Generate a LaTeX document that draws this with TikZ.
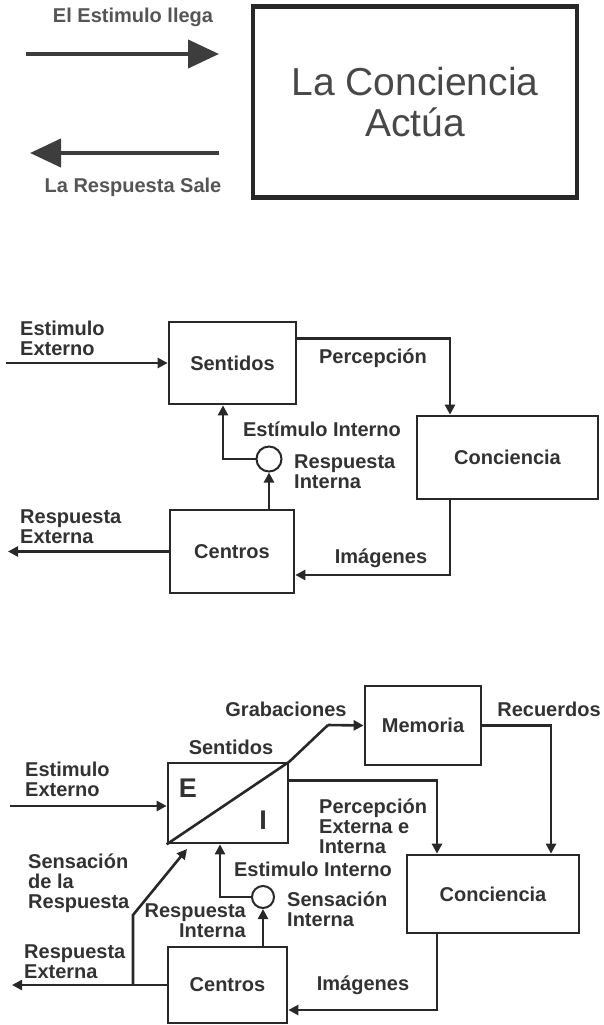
\documentclass[tikz,border=0pt]{standalone}
\usepackage{fontspec}
\setmainfont{Liberation Sans}
\usetikzlibrary{arrows.meta,calc}
\definecolor{ink}{RGB}{40,40,40}
\definecolor{inkgray}{RGB}{85,85,85}
\definecolor{labelink}{RGB}{50,50,50}
\tikzset{
	flow/.style={-{Triangle[length=10pt,width=10pt]},line width=2.6pt,draw=ink},
	wire/.style={line width=2.6pt,draw=ink},
	bigflow/.style={-{Triangle[length=31pt,width=28pt]},line width=4.2pt,draw=ink!90},
	block/.style={draw=ink,line width=2.7pt,inner sep=0pt,text=labelink,
		font=\bfseries\fontsize{20}{20}\selectfont},
	junction/.style={circle,draw=ink,line width=2pt,fill=white,inner sep=0pt},
	lbl/.style={text=labelink,inner sep=0pt,align=left,
		font=\bfseries\fontsize{20}{20}\selectfont},
	toplbl/.style={text=inkgray,inner sep=0pt,
		font=\bfseries\fontsize{20}{20}\selectfont},
}

\begin{document}
\begin{tikzpicture}[x=1pt,y=-1pt]
		\useasboundingbox (0,0) rectangle (604,1025);
		
		% top: the whole idea
		\node[draw=ink,line width=4.2pt,minimum width=324pt,minimum height=191pt,
		align=center,text=ink!85,font=\fontsize{39}{41}\selectfont] (actua) at (415,102)
		{La Conciencia\\Actúa};
		\coordinate (inA) at (26,54);
		\coordinate (inB) at (219,54);
		\coordinate (outA) at (219,153);
		\coordinate (outB) at (30,153);
		\draw[bigflow] (inA) -- (inB);
		\draw[bigflow] (outA) -- (outB);
		\node[toplbl] (llega) at (133,17) {El Estimulo llega};
		\node[toplbl] (sale) at (133,187) {La Respuesta Sale};
		
		% middle: sentidos, centros, conciencia
		\node[block,minimum width=127pt,minimum height=82pt] (sent1) at (232.5,363) {Sentidos};
		\node[block,minimum width=181pt,minimum height=83pt] (conc1) at (507.5,457.5) {Conciencia};
		\node[block,minimum width=124pt,minimum height=83pt] (cent1) at (232,551.5) {Centros};
		\node[junction,minimum size=25pt] (circ1) at (269,459) {};
		\coordinate (ext1) at (6,363);
		\coordinate (rext1) at (8,551.5);
		
		\draw[flow] (ext1) -- (sent1.west);
		\draw[flow] ([yshift=-18]sent1.north east) -| ([xshift=-57.5]conc1.north);
		\draw[flow] ([xshift=-57.5]conc1.south) |- ([yshift=-23.5]cent1.east);
		\draw[flow] (circ1.south |- cent1.north) -- (circ1.south);
		\draw[flow] (circ1.west) -| ([xshift=-9.5]sent1.south);
		\draw[flow] (cent1.west) -- (rext1);
		
		\node[lbl,anchor=west] (ee1) at (20,338) {Estimulo\\Externo};
		\node[lbl] (perc1) at (373,358) {Percepción};
		\node[lbl] (ei1) at (322,429) {Estímulo Interno};
		\node[lbl,anchor=west] (ri1) at (294,472) {Respuesta\\Interna};
		\node[lbl,anchor=west] (re1) at (20,527) {Respuesta\\Externa};
		\node[lbl] (img1) at (381,558) {Imágenes};
		
		% bottom: with memoria
		\node[block,minimum width=116pt,minimum height=79pt] (mem) at (423,725.5) {Memoria};
		\node[block,minimum width=120pt,minimum height=80pt] (sent2) at (228,803) {};
		\node[block,minimum width=172pt,minimum height=78pt] (conc2) at (493,894) {Conciencia};
		\node[block,minimum width=119pt,minimum height=76pt] (cent2) at (227.5,985) {Centros};
		\node[junction,minimum size=22pt] (circ2) at (263,897) {};
		\coordinate (bend) at (328,725);
		\coordinate (ext2) at (10,806);
		\coordinate (rext2) at (12,985);
		\coordinate (split) at (133,985);
		\coordinate (kink) at (133,915);
		\coordinate (sensend) at (187,849);
		
		\draw[wire] (sent2.south west) -- (sent2.north east) -- (bend);
		\draw[flow] (bend) -- (mem.west);
		\node[lbl,font=\bfseries\fontsize{27}{27}\selectfont] (eext) at (188,788) {E};
		\node[lbl,font=\bfseries\fontsize{27}{27}\selectfont] (iint) at (263,820) {I};
		
		\draw[flow] (ext2) -- (ext2 -| sent2.west);
		\draw[flow] ([yshift=-19]sent2.north east) -| ([xshift=-56]conc2.north);
		\draw[flow] (mem.east) -| ([xshift=58]conc2.north);
		\draw[flow] ([xshift=-56]conc2.south) |- ([yshift=-25]cent2.east);
		\draw[flow] (circ2.south |- cent2.north) -- (circ2.south);
		\draw[flow] (circ2.west) -| ([xshift=-8]sent2.south);
		\draw[flow] (cent2.west) -- (rext2);
		\draw[flow] (split) -- (kink) -- (sensend);
		
		\node[lbl] (grab) at (286,709) {Grabaciones};
		\node[lbl] (recu) at (549,709) {Recuerdos};
		\node[lbl] (sent2lbl) at (231,747) {Sentidos};
		\node[lbl,anchor=west] (ee2) at (25,779) {Estimulo\\Externo};
		\node[lbl,anchor=west] (perc2) at (319,826) {Percepción\\Externa e\\Interna};
		\node[lbl] (ei2) at (313,869) {Estimulo Interno};
		\node[lbl,anchor=west] (si2) at (287,909) {Sensación\\Interna};
		\node[lbl,anchor=east,align=right] (ri2) at (246,921) {Respuesta\\Interna};
		\node[lbl,anchor=west] (sr2) at (28,883) {Sensación\\de la\\Respuesta};
		\node[lbl,anchor=west] (re2) at (24,962) {Respuesta\\Externa};
		\node[lbl] (img2) at (363,985) {Imágenes};
		
	\end{tikzpicture}
\end{document}
